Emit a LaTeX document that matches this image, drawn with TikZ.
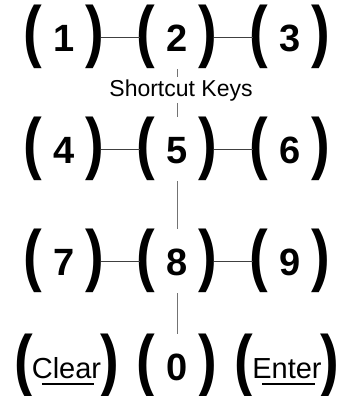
\documentclass[tikz,border=0pt]{standalone}
\usepackage{fontspec}
\usepackage{graphicx}
\setmainfont{Liberation Sans}
\newcommand\parfont{\fontsize{40}{40}\selectfont\bfseries}
\newcommand\digfont{\fontsize{38}{38}\selectfont\bfseries}
\newcommand\lp{\scalebox{1.4}[1.708]{\parfont(}}
\newcommand\rp{\scalebox{1.4}[1.708]{\parfont)}}
\newlength\wlen
\newcommand\ulword[1]{\settowidth\wlen{#1}\addtolength\wlen{-17pt}\rlap{\hspace{10pt}\rule[-6.5pt]{\wlen}{1.8pt}}#1}
\newcommand\keyface[1]{\lp\hspace{11pt}\raisebox{3pt}{\digfont #1}\hspace{11pt}\rp}
\newcommand\wordkey[1]{\lp\hspace{-1pt}\raisebox{5.5pt}{\fontsize{29}{29}\selectfont\ulword{#1}}\hspace{-1pt}\rp}
\begin{document}
\begin{tikzpicture}[x=1pt,y=-1pt,
  key/.style={inner sep=0pt, anchor=center},
  link/.style={draw=black!75, line width=0.9pt, shorten <=-3pt, shorten >=-3pt},
  vlink/.style={draw=black!55, line width=0.8pt}]
\useasboundingbox (0,0) rectangle (343,396);
\node[key] (k1) at (64,37) {\keyface{1}};
\node[key] (k2) at (177,37) {\keyface{2}};
\node[key] (k3) at (290,37) {\keyface{3}};
\node[key] (k4) at (64,149) {\keyface{4}};
\node[key] (k5) at (177,149) {\keyface{5}};
\node[key] (k6) at (290,149) {\keyface{6}};
\node[key] (k7) at (64,261) {\keyface{7}};
\node[key] (k8) at (177,261) {\keyface{8}};
\node[key] (k9) at (290,261) {\keyface{9}};
\node[key] (kc) at (66.5,366) {\wordkey{Clear}};
\node[key] (k0) at (177,366) {\keyface{0}};
\node[key] (ke) at (287,366) {\wordkey{Enter}};
\node[inner sep=2pt, anchor=base, font=\fontsize{23}{23}\selectfont] (sk) at (181,96) {Shortcut Keys};
\draw[link] (k1) -- (k2);
\draw[link] (k2) -- (k3);
\draw[link] (k4) -- (k5);
\draw[link] (k5) -- (k6);
\draw[link] (k7) -- (k8);
\draw[link] (k8) -- (k9);
\draw[vlink] (k2.south) -- (k2.south |- sk.north);
\draw[vlink] (k2.south |- sk.south) -- (k5.north);
\draw[vlink] (k5.south) -- (k8.north);
\draw[vlink] (k8.south) -- (k0.north);
\end{tikzpicture}
\end{document}
